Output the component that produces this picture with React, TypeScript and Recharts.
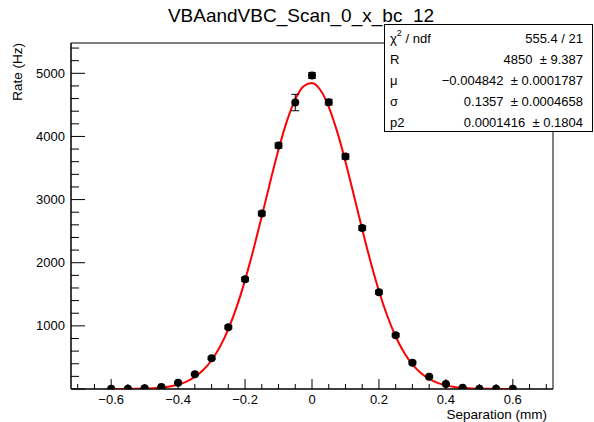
import React from "react";
import { ComposedChart, Line, Scatter, XAxis, YAxis, ErrorBar, ReferenceArea } from "recharts";

// measured points (separation in mm, rate in Hz)
const sep = [-0.6, -0.55, -0.5, -0.45, -0.4, -0.35, -0.3, -0.25, -0.2, -0.15, -0.1, -0.05, 0, 0.05, 0.1, 0.15, 0.2, 0.25, 0.3, 0.35, 0.4, 0.45, 0.5, 0.55, 0.6];
const rate = [5, 5, 10, 30, 100, 233, 486, 978, 1738, 2778, 3856, 4537, 4965, 4543, 3681, 2551, 1532, 853, 417, 195, 79, 21, 5, 5, 3];
const rateErr = [3, 3, 5, 8, 12, 15, 20, 25, 30, 35, 40, 130, 45, 45, 40, 35, 30, 25, 20, 15, 8, 5, 3, 3, 3];

// fitted curve
const fitX = [-0.6, -0.575, -0.55, -0.525, -0.5, -0.475, -0.45, -0.425, -0.4, -0.375, -0.35, -0.325, -0.3, -0.275, -0.25, -0.225, -0.2, -0.175, -0.15, -0.125, -0.1, -0.075, -0.05, -0.025, 0, 0.025, 0.05, 0.075, 0.1, 0.125, 0.15, 0.175, 0.2, 0.225, 0.25, 0.275, 0.3, 0.325, 0.35, 0.375, 0.4, 0.425, 0.45, 0.475, 0.5, 0.525, 0.55, 0.575, 0.6];
const fitY = [0.3, 0.7, 1.5, 3.1, 6.2, 12, 22, 40, 70, 117, 191, 300, 455, 668, 948, 1300, 1724, 2209, 2736, 3276, 3792, 4243, 4588, 4796, 4847, 4735, 4470, 4080, 3600, 3070, 2530, 2016, 1553, 1156, 832, 579, 389, 253, 159, 97, 57, 32, 18, 9, 5, 2.4, 1.1, 0.5, 0.2];

const xTicks = [-0.7, -0.65, -0.6, -0.55, -0.5, -0.45, -0.4, -0.35, -0.3, -0.25, -0.2, -0.15, -0.1, -0.05, 0, 0.05, 0.1, 0.15, 0.2, 0.25, 0.3, 0.35, 0.4, 0.45, 0.5, 0.55, 0.6, 0.65, 0.7];
const yTicks = [0, 200, 400, 600, 800, 1000, 1200, 1400, 1600, 1800, 2000, 2200, 2400, 2600, 2800, 3000, 3200, 3400, 3600, 3800, 4000, 4200, 4400, 4600, 4800, 5000, 5200, 5400];

const statNames = ["χ² / ndf", "R", "μ", "σ", "p2"];
const statValues = ["555.4 / 21", "4850 \u00a0± 9.387", "−0.004842 \u00a0± 0.0001787", "0.1357 \u00a0± 0.0004658", "0.0001416 \u00a0± 0.1804"];

const points = sep.map((x, i) => ({ x, y: rate[i], err: rateErr[i] }));
const fit = fitX.map((x, i) => ({ x, f: fitY[i] }));

const FONT = "'Liberation Sans', Arial, Helvetica, sans-serif";

const fmt = (v: number) => {
  if (Math.abs(v) < 1e-9) return "0";
  return v.toFixed(1).replace("-", "−");
};

const isMult = (v: number, step: number) => Math.abs(Math.round(v / step) * step - v) < 1e-6;

// ticks are drawn inward, ROOT style; y passed in is the text position (axis + tickSize + tickMargin)
const XTick = (props: any) => {
  const { x, y, payload } = props;
  const axisY = y - 12;
  const major = isMult(payload.value, 0.2);
  return (
    <g>
      <line x1={x} x2={x} y1={axisY} y2={axisY - (major ? 10 : 5)} stroke="#000" />
      {major && (
        <text x={x} y={axisY + 10} textAnchor="middle" dominantBaseline="central" fontSize={13} fontFamily={FONT} fill="#000">
          {fmt(payload.value)}
        </text>
      )}
    </g>
  );
};

const YTick = (props: any) => {
  const { x, y, payload } = props;
  const axisX = x + 12;
  const major = isMult(payload.value, 1000);
  return (
    <g>
      <line x1={axisX} x2={axisX + (major ? 14 : 8)} y1={y} y2={y} stroke="#000" />
      {major && payload.value > 0 && (
        <text x={axisX - 6} y={y} textAnchor="end" dominantBaseline="central" fontSize={13} fontFamily={FONT} fill="#000">
          {payload.value}
        </text>
      )}
    </g>
  );
};

const Dot = (props: any) => <circle cx={props.cx} cy={props.cy} r={4} fill="#000" />;

export default function App() {
  return (
    <div style={{ position: "fixed", left: 0, top: 0, width: 594, height: 422, background: "#fff" }}>
      <ComposedChart width={594} height={422} margin={{ top: 43, right: 41, bottom: 3, left: 11 }}>
        <XAxis
          type="number"
          dataKey="x"
          domain={[-0.72, 0.72]}
          ticks={xTicks}
          interval={0}
          height={30}
          tickSize={6}
          tickMargin={6}
          tick={<XTick />}
          axisLine={{ stroke: "#000" }}
          tickLine={false}
          allowDataOverflow
        />
        <YAxis
          type="number"
          dataKey="y"
          domain={[0, 5480]}
          ticks={yTicks}
          interval={0}
          width={60}
          tickSize={6}
          tickMargin={6}
          tick={<YTick />}
          axisLine={{ stroke: "#000" }}
          tickLine={false}
          allowDataOverflow
        />
        <ReferenceArea x1={-0.72} x2={0.72} y1={0} y2={5480} fill="none" stroke="#000" strokeOpacity={1} fillOpacity={0} />
        <Line data={fit} dataKey="f" type="monotone" stroke="#ff0000" strokeWidth={2} dot={false} isAnimationActive={false} />
        <Scatter data={points} dataKey="y" shape={<Dot />} isAnimationActive={false}>
          <ErrorBar dataKey="err" direction="y" width={4} stroke="#000" strokeWidth={1} />
        </Scatter>
      </ComposedChart>
      <svg width={594} height={422} style={{ position: "absolute", left: 0, top: 0, pointerEvents: "none" }}>
        <text x={301} y={15} textAnchor="middle" dominantBaseline="central" fontSize={19} fontFamily={FONT} fill="#000">
          VBAandVBC_Scan_0_x_bc_12
        </text>
        <text x={547} y={414} textAnchor="end" dominantBaseline="central" fontSize={13.5} fontFamily={FONT} fill="#000">
          Separation (mm)
        </text>
        <text
          transform="translate(17,43) rotate(-90)"
          x={0}
          y={0}
          textAnchor="end"
          dominantBaseline="central"
          fontSize={13.5}
          fontFamily={FONT}
          fill="#000"
        >
          Rate (Hz)
        </text>
        <rect x={384.5} y={24.5} width={208} height={107} fill="#fff" stroke="#000" />
        {statNames.map((n, i) => (
          <g key={n}>
            <text x={390} y={38 + i * 21} dominantBaseline="central" fontSize={13} fontFamily={FONT} fill="#000">
              {i === 0 ? (
                <>
                  χ<tspan dy={-5} fontSize={9}>2</tspan>
                  <tspan dy={5}> / ndf</tspan>
                </>
              ) : (
                n
              )}
            </text>
            <text x={583} y={38 + i * 21} textAnchor="end" dominantBaseline="central" fontSize={13} fontFamily={FONT} fill="#000">
              {statValues[i]}
            </text>
          </g>
        ))}
      </svg>
    </div>
  );
}
